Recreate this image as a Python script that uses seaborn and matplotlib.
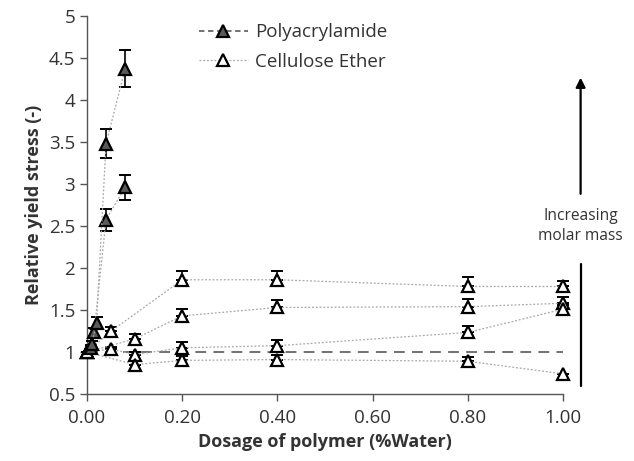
import matplotlib
matplotlib.use("Agg")
import matplotlib.pyplot as plt
import seaborn as sns
import pandas as pd
from matplotlib.lines import Line2D

# ---- data ----
pam_hi_x = [0.01, 0.02, 0.04, 0.08]
pam_hi_y = [1.09, 1.35, 3.48, 4.37]
pam_hi_err = [0.04, 0.07, 0.17, 0.22]

pam_lo_x = [0.008, 0.015, 0.04, 0.08]
pam_lo_y = [1.05, 1.24, 2.575, 2.96]
pam_lo_err = [0.03, 0.05, 0.13, 0.15]

ce1_x = [0, 0.05, 0.2, 0.4, 0.8, 1.0]
ce1_y = [1.0, 1.245, 1.86, 1.86, 1.78, 1.78]
ce1_err = [0.0, 0.05, 0.10, 0.10, 0.11, 0.06]

ce2_x = [0, 0.1, 0.2, 0.4, 0.8, 1.0]
ce2_y = [1.0, 1.155, 1.43, 1.53, 1.54, 1.58]
ce2_err = [0.0, 0.06, 0.08, 0.09, 0.09, 0.08]

ce3_x = [0, 0.05, 0.1, 0.2, 0.4, 0.8, 1.0]
ce3_y = [1.0, 1.035, 0.97, 1.05, 1.075, 1.233, 1.51]
ce3_err = [0.0, 0.03, 0.03, 0.07, 0.07, 0.08, 0.05]

ce4_x = [0, 0.1, 0.2, 0.4, 0.8, 1.0]
ce4_y = [1.0, 0.85, 0.90, 0.91, 0.89, 0.74]
ce4_err = [0.0, 0.0, 0.05, 0.06, 0.05, 0.0]

ref_x = [0.0, 1.0]
ref_y = [1.0, 1.0]

x_ticks = [0.0, 0.2, 0.4, 0.6, 0.8, 1.0]
x_ticklabels = ["0.00", "0.20", "0.40", "0.60", "0.80", "1.00"]
y_ticks = [0.5, 1, 1.5, 2, 2.5, 3, 3.5, 4, 4.5, 5]
y_ticklabels = ["0.5", "1", "1.5", "2", "2.5", "3", "3.5", "4", "4.5", "5"]

# ---- style ----
sns.set_theme(style="ticks")
plt.rcParams["font.family"] = ["Open Sans", "DejaVu Sans"]
TXT = "#333333"

fig = plt.figure(figsize=(6.34, 4.61), dpi=100)
ax = fig.add_axes([87 / 634, 1 - 394 / 461, 476 / 634, 378 / 461])

DOT = "#a8a8a8"
PAM_FILL = "#5a5a5a"
MS = 9
MEW = 1.6

# reference dashed line at 1
sns.lineplot(x=ref_x, y=ref_y, ax=ax, color="#666666", lw=1.3,
             linestyle=(0, (6, 4)), zorder=1)

def draw(xs, ys, errs, face, lower=True):
    df = pd.DataFrame({"x": xs, "y": ys})
    lo = errs if lower else [0] * len(errs)
    eb = ax.errorbar(xs, ys, yerr=[lo, errs], fmt="none", ecolor="black",
                     elinewidth=1.2, capsize=4, capthick=1.4, zorder=3)
    for art in eb.lines[1] + eb.lines[2]:
        art.set_clip_on(False)
    n0 = len(ax.lines)
    sns.lineplot(data=df, x="x", y="y", ax=ax, sort=False, color=DOT,
                 lw=0.9, linestyle=(0, (1.5, 1.5)), marker="^",
                 markersize=MS, markerfacecolor=face,
                 markeredgecolor="black", markeredgewidth=MEW, zorder=4)
    for ln in ax.lines[n0:]:
        ln.set_clip_on(False)

for xs, ys, errs in [(ce1_x, ce1_y, ce1_err), (ce2_x, ce2_y, ce2_err),
                     (ce3_x, ce3_y, ce3_err), (ce4_x, ce4_y, ce4_err)]:
    draw(xs, ys, errs, "white", lower=False)

for xs, ys, errs in [(pam_lo_x, pam_lo_y, pam_lo_err),
                     (pam_hi_x, pam_hi_y, pam_hi_err)]:
    draw(xs, ys, errs, PAM_FILL, lower=True)

ax.set_xlim(0, 1.0)
ax.set_ylim(0.5, 5)
ax.set_xticks(x_ticks)
ax.set_xticklabels(x_ticklabels)
ax.set_yticks(y_ticks)
ax.set_yticklabels(y_ticklabels)
ax.tick_params(axis="both", labelsize=13.5, colors=TXT, length=5, width=1,
               direction="out", color="#555555")
ax.tick_params(axis="x", pad=6)
for s in ["top", "right"]:
    ax.spines[s].set_visible(False)
for s in ["left", "bottom"]:
    ax.spines[s].set_color("#555555")
    ax.spines[s].set_linewidth(1)

ax.set_xlabel("Dosage of polymer (%Water)", fontsize=13, fontweight="bold",
              color=TXT, labelpad=4)
ax.set_ylabel("Relative yield stress (-)", fontsize=13, fontweight="bold",
              color=TXT, labelpad=4)

# legend
h1 = Line2D([], [], color="#666666", lw=1.3, linestyle=(0, (3, 2)),
            marker="^", markersize=MS, markerfacecolor=PAM_FILL,
            markeredgecolor="black", markeredgewidth=MEW)
h2 = Line2D([], [], color=DOT, lw=0.9, linestyle=(0, (1.5, 1.5)),
            marker="^", markersize=MS, markerfacecolor="white",
            markeredgecolor="black", markeredgewidth=MEW)
leg = ax.legend([h1, h2], ["Polyacrylamide", "Cellulose Ether"],
                loc="upper left", bbox_to_anchor=(0.2, 1.025), frameon=False,
                fontsize=13.5, handlelength=2.6, handletextpad=0.4,
                labelspacing=0.6)
for t in leg.get_texts():
    t.set_color(TXT)

# annotation outside the axes on the right
xa = 1.037
ax.plot([xa, xa], [0.6, 2.05], color="black", lw=1.6, clip_on=False)
ax.annotate("", xy=(xa, 4.3), xytext=(xa, 2.85),
            arrowprops=dict(arrowstyle="-|>", color="black", lw=1.6,
                            mutation_scale=14),
            annotation_clip=False)
ax.text(xa, 2.5, "Increasing\nmolar mass", ha="center", va="center",
        fontsize=11.2, color=TXT, linespacing=1.3, clip_on=False)

fig.savefig("out.png", dpi=100)
